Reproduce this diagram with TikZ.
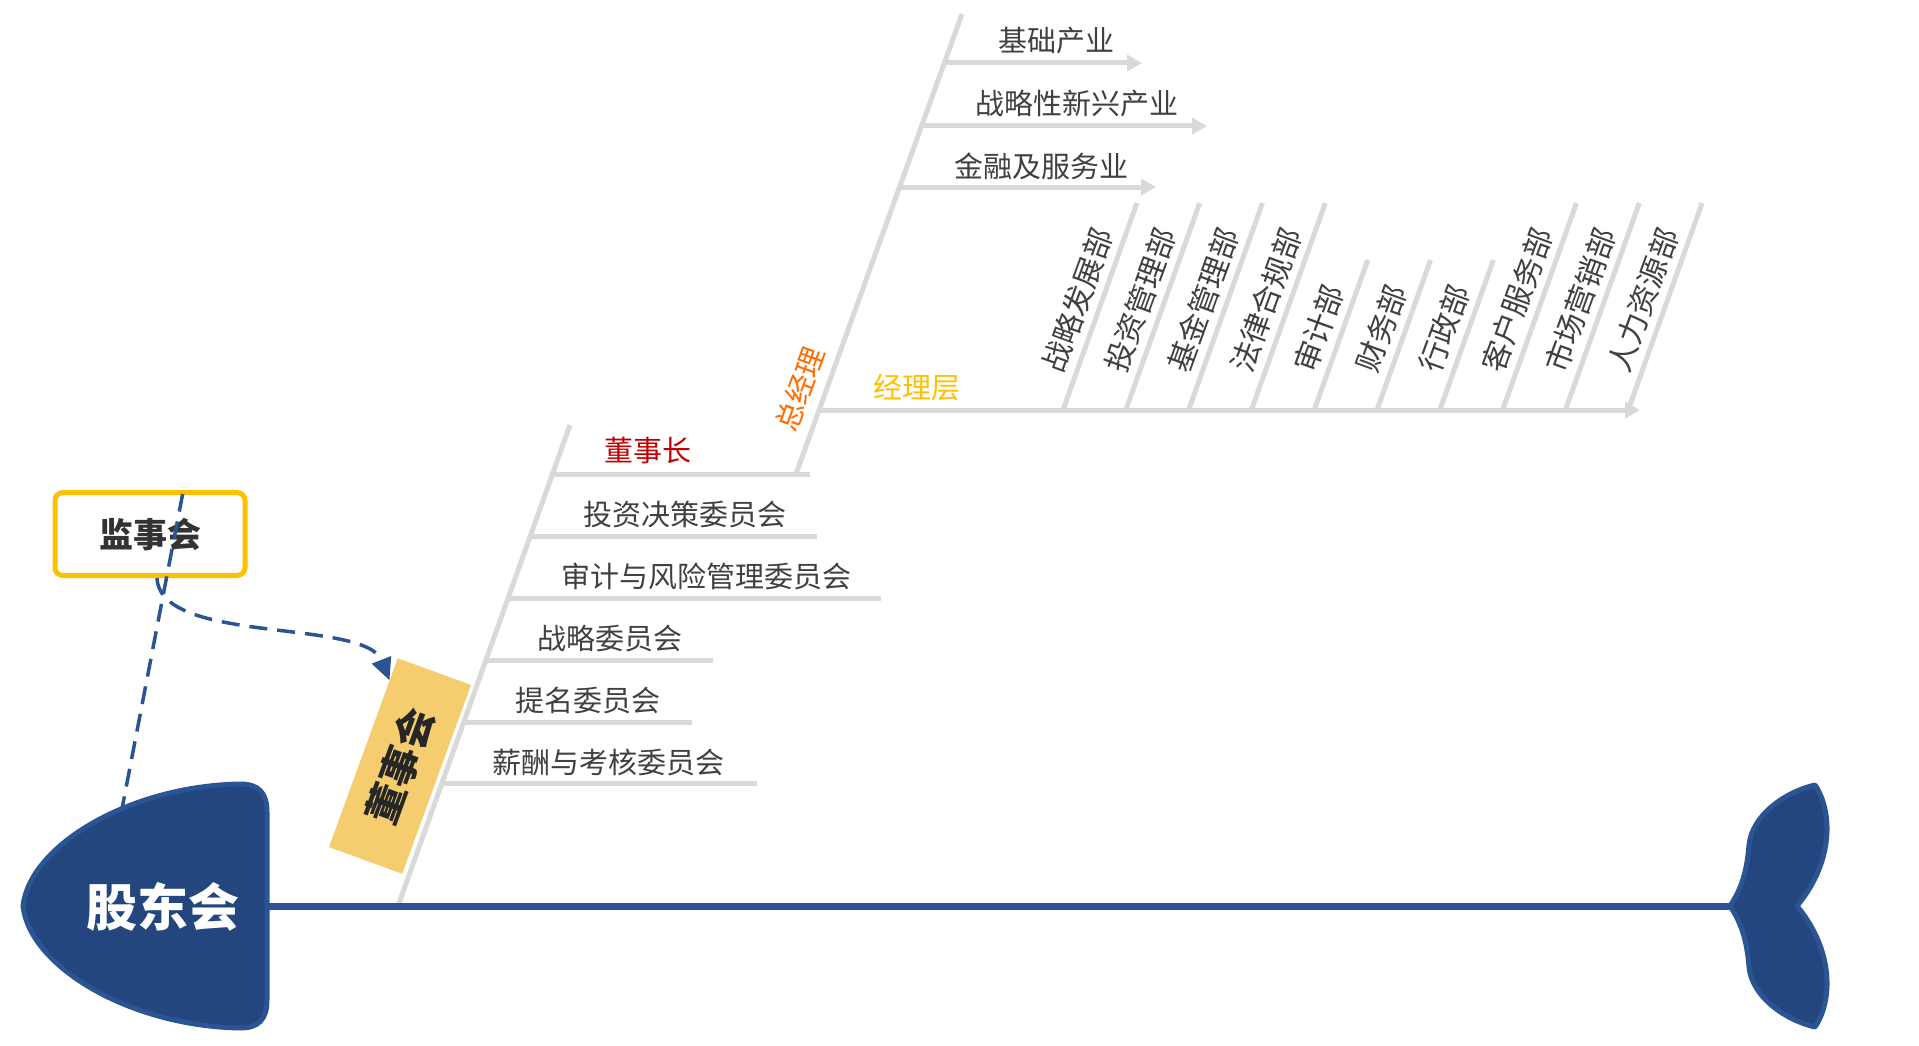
\documentclass[tikz,border=0pt]{standalone}
\usepackage{fontspec}
\setmainfont{Noto Sans CJK SC}
\usetikzlibrary{arrows.meta}

\definecolor{spineblue}{RGB}{42,84,148}
\definecolor{headblue}{RGB}{35,70,126}
\definecolor{bonegray}{RGB}{217,217,217}
\definecolor{txtgray}{RGB}{64,64,64}
\definecolor{chairred}{RGB}{192,0,0}
\definecolor{ceoorange}{RGB}{255,108,0}
\definecolor{mgmtyellow}{RGB}{255,192,0}
\definecolor{boardfill}{RGB}{245,205,110}

\begin{document}
\begin{tikzpicture}[x=1pt, y=-1pt,
    bone/.style={bonegray, line width=5pt},
    arrbone/.style={bone, -{Triangle[length=15pt,width=16pt]}},
    lbl/.style={font=\fontsize{29}{29}\selectfont, text=txtgray, inner sep=0pt},
    dept/.style={lbl, font=\fontsize{30}{30}\selectfont, rotate=70, anchor=west},
    fishbody/.style={fill=headblue, draw=spineblue, line width=5pt, line join=round},
    link/.style={spineblue, line width=3.5pt, dash pattern=on 18pt off 10pt}]
	  \useasboundingbox (0,0) rectangle (1919,1046);

	  % board bone
	  \coordinate (b1s) at (398,906);
	  \coordinate (b1e) at (570,425);
	  \draw[bone] (b1s) -- (b1e);
	  \foreach \yy/\xe [count=\i] in {474/810,536/817,598/881,660/713,722/692,783/757} {
	    \pgfmathsetmacro{\xa}{398+(906-\yy)*0.3576}
	    \coordinate (c\i a) at (\xa,\yy);
	    \coordinate (c\i b) at (\xe,\yy);
	    \draw[bone] (c\i a) -- (c\i b);
	  }

	  % general manager bone
	  \coordinate (b2s) at (796,474);
	  \coordinate (b2e) at (962,14);
	  \draw[bone] (b2s) -- (b2e);
	  \coordinate (m1a) at (944,63);  \coordinate (m1b) at (1142,63);
	  \coordinate (m2a) at (922,126); \coordinate (m2b) at (1207,126);
	  \coordinate (m3a) at (900,187); \coordinate (m3b) at (1156,187);
	  \coordinate (m4a) at (819,410); \coordinate (m4b) at (1640,410);
	  \draw[arrbone] (m1a) -- (m1b);
	  \draw[arrbone] (m2a) -- (m2b);
	  \draw[arrbone] (m3a) -- (m3b);
	  \draw[arrbone] (m4a) -- (m4b);

	  % departments
	  \foreach \dname/\dtop [count=\i from 0] in {战略发展部/203,投资管理部/203,基金管理部/203,法律合规部/203,审计部/260,财务部/260,行政部/260,客户服务部/203,市场营销部/203,人力资源部/203} {
	    \pgfmathsetmacro{\bx}{1063+62.8*\i}
	    \pgfmathsetmacro{\tx}{\bx+(410-\dtop)*0.357}
	    \coordinate (db\i) at (\bx,410);
	    \coordinate (dt\i) at (\tx,\dtop);
	    \draw[bone] (db\i) -- (dt\i);
	    \node[dept] (dl\i) at (\bx-11,371) {\dname};
	  }

	  % spine, head, tail
	  \coordinate (sp1) at (267,906);
	  \coordinate (sp2) at (1732,906);
	  \draw[spineblue, line width=7pt] (sp1) -- (sp2);

	  \node[draw=mgmtyellow, line width=5pt, rounded corners=8pt, minimum width=190pt, minimum height=83pt,
	        font=\bfseries\fontsize{34}{34}\selectfont, text={rgb,255:red,51;green,51;blue,51}] (jsh) at (150,534) {监事会};
	  \coordinate (gdtop) at (121,814);
	  \coordinate (jtop) at (184,487);
	  \draw[link] (gdtop) -- (jtop);

	  \draw[fishbody] (267,1000) -- (267,812) .. controls (267,792) and (258,784) .. (240,784)
	    .. controls (130,786) and (30,845) .. (23,906)
	    .. controls (30,967) and (130,1026) .. (240,1028)
	    .. controls (258,1028) and (267,1020) .. (267,1000) -- cycle;
	  \draw[fishbody] (1730,906) .. controls (1742,888) and (1747,870) .. (1749,845)
	    .. controls (1752,815) and (1785,792) .. (1815,785)
	    .. controls (1832,810) and (1835,860) .. (1797,906)
	    .. controls (1835,952) and (1832,1002) .. (1815,1027)
	    .. controls (1785,1020) and (1752,997) .. (1749,967)
	    .. controls (1747,942) and (1742,924) .. (1730,906) -- cycle;
	  \node[font=\bfseries\fontsize{51}{51}\selectfont, text=white] (gdh) at (163,907) {股东会};

	  \node[rotate=70, fill=boardfill, minimum width=201pt, minimum height=78pt, inner sep=0pt,
	        font=\bfseries\fontsize{40}{40}\selectfont, text={rgb,255:red,38;green,38;blue,38}] (dsh) at (400,766) {董事会};
	  \draw[link, -{Triangle[length=22pt,width=20pt]}] ([xshift=7pt]jsh.south) .. controls (160,645) and (365,618) .. (dsh.27);

	  % labels
	  \node[lbl, text=chairred] (chair) at (648,451) {董事长};
	  \node[lbl] (tz) at (685,514) {投资决策委员会};
	  \node[lbl] (sj) at (706,576) {审计与风险管理委员会};
	  \node[lbl] (zl) at (610,638) {战略委员会};
	  \node[lbl] (tm) at (588,700) {提名委员会};
	  \node[lbl] (xc) at (608,762) {薪酬与考核委员会};
	  \node[lbl] (jc) at (1056,41) {基础产业};
	  \node[lbl] (zx) at (1077,104) {战略性新兴产业};
	  \node[lbl] (jr) at (1041,166) {金融及服务业};
	  \node[lbl, text=mgmtyellow] (jlc) at (917,388) {经理层};
	  \node[lbl, text=ceoorange, rotate=70] (zjl) at (800,389) {总经理};
	\end{tikzpicture}
\end{document}
